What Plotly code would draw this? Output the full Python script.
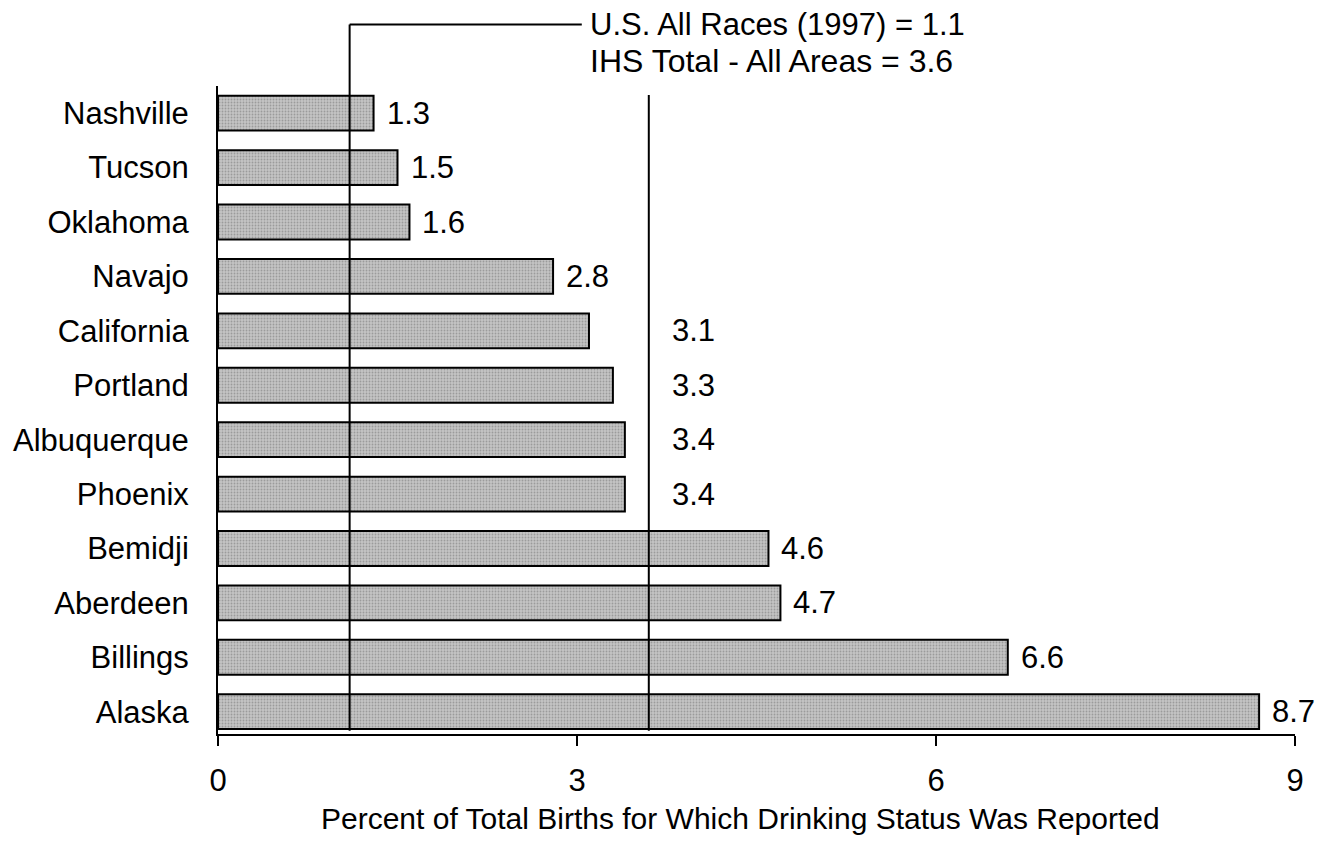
import plotly.graph_objects as go

areas = ["Alaska", "Billings", "Aberdeen", "Bemidji", "Phoenix", "Albuquerque",
         "Portland", "California", "Navajo", "Oklahoma", "Tucson", "Nashville"]
values = [8.7, 6.6, 4.7, 4.6, 3.4, 3.4, 3.3, 3.1, 2.8, 1.6, 1.5, 1.3]
us_all_races = 1.1
ihs_total = 3.6
x_ticks = [0, 3, 6, 9]
us_label = "U.S. All Races (1997) = 1.1"
ihs_label = "IHS Total - All Areas = 3.6"
x_title = "Percent of Total Births for Which Drinking Status Was Reported"

FONT = "Liberation Sans, Arial, sans-serif"
FS = 31

fig = go.Figure()
fig.add_trace(go.Bar(
    x=values, y=areas, orientation="h",
    marker=dict(color="#c4c4c4",
                line=dict(color="black", width=2),
                pattern=dict(shape=".", fgcolor="#727272", bgcolor="#c4c4c4",
                             size=3, solidity=0.3)),
    width=0.64, hoverinfo="x+y", showlegend=False,
))

annotations = []
for a, v in zip(areas, values):
    # labels that would collide with the IHS line are moved to its right
    lx = ihs_total if (v < ihs_total and ihs_total - v < 0.6) else v
    shift = 21 if lx == ihs_total else 11
    annotations.append(dict(x=lx, y=a, xref="x", yref="y", text=f"{v:.1f}",
                            showarrow=False, xanchor="left", xshift=shift,
                            font=dict(size=FS, color="black", family=FONT)))

annotations.append(dict(x=3.09, y=1.095, xref="x", yref="paper", text=us_label,
                        showarrow=False, xanchor="left", yanchor="middle",
                        font=dict(size=FS, color="black", family=FONT)))
annotations.append(dict(x=3.09, y=1.039, xref="x", yref="paper", text=ihs_label,
                        showarrow=False, xanchor="left", yanchor="middle",
                        font=dict(size=32, color="black", family=FONT)))
annotations.append(dict(x=0.485, y=-0.131, xref="paper", yref="paper", text=x_title,
                        showarrow=False, xanchor="center", yanchor="middle",
                        font=dict(size=30, color="black", family=FONT)))

shapes = [
    dict(type="line", xref="x", yref="paper", x0=us_all_races, x1=us_all_races,
         y0=0.005, y1=1.095, line=dict(color="black", width=2)),
    dict(type="line", xref="x", yref="paper", x0=us_all_races, x1=3.04,
         y0=1.095, y1=1.095, line=dict(color="black", width=2)),
    dict(type="line", xref="x", yref="paper", x0=ihs_total, x1=ihs_total,
         y0=0.005, y1=0.986, line=dict(color="black", width=2)),
]

fig.update_layout(
    width=1317, height=862,
    margin=dict(l=218, r=22, t=86, b=128),
    paper_bgcolor="white", plot_bgcolor="white",
    font=dict(family=FONT, size=FS, color="black"),
    annotations=annotations, shapes=shapes,
    xaxis=dict(range=[0, 9], tickvals=x_ticks, ticks="outside", ticklen=10,
               tickwidth=2, tickcolor="black", showline=True, linecolor="black",
               linewidth=2, showgrid=False, zeroline=False,
               tickfont=dict(size=FS), ticklabelstandoff=8),
    yaxis=dict(categoryorder="array", categoryarray=areas, range=[-0.41, 11.5],
               showline=True, linecolor="black", linewidth=2, ticks="",
               showgrid=False, zeroline=False, tickfont=dict(size=FS),
               ticklabelstandoff=21),
)

fig.write_html("out.html",
               config={"displayModeBar": False},
               post_script="document.body.style.margin='0';"
                           "document.body.style.overflow='hidden';")
